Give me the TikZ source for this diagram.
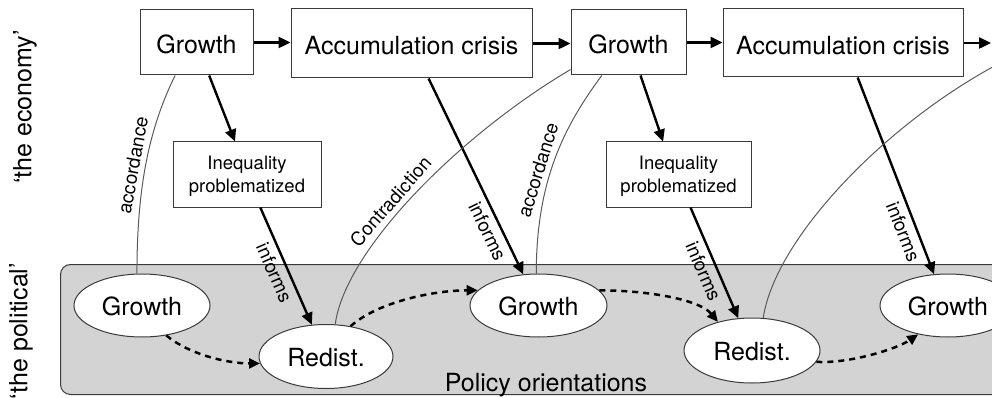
\documentclass[tikz,border=0pt]{standalone}
\usepackage{fontspec}
\setmainfont{TeX Gyre Heros}
\usetikzlibrary{arrows.meta,shapes.geometric}

\definecolor{framegray}{HTML}{3A3A3A}
\definecolor{linkgray}{HTML}{5A5A5A}
\definecolor{policyfill}{HTML}{D3D3D3}

\begin{document}
\begin{tikzpicture}[x=1pt,y=-1pt,
  big/.style={font=\fontsize{25}{30}\selectfont},
  phasebox/.style={draw=framegray, line width=1pt, fill=white, big, inner sep=0pt,
    text height=22.5pt, text depth=0pt},
  ineqbox/.style={draw=framegray, line width=1pt, fill=white, align=center, inner sep=0pt,
    minimum width=148pt, minimum height=65pt, font=\fontsize{18.5}{23.3}\selectfont,
    text depth=0pt},
  orientell/.style={ellipse, draw=framegray, line width=1pt, fill=white, big, inner sep=0pt,
    minimum width=136pt, minimum height=63pt, text height=20pt, text depth=0pt},
  flowarrow/.style={line width=2.4pt, -{Triangle[length=12pt,width=11pt]}},
  dashshift/.style={line width=2.5pt, dash pattern=on 6pt off 5pt,
    -{Triangle[length=11pt,width=10pt]}},
  thinlink/.style={draw=linkgray, line width=1pt},
  edgelbl/.style={font=\fontsize{19}{22}\selectfont, sloped, inner sep=5pt},
]
\useasboundingbox (0,0) rectangle (992,398);
\clip (0,0) rectangle (992,398);

% band of policy orientations
\node[draw=framegray, fill=policyfill, rounded corners=10pt, line width=1pt,
  minimum width=960pt, minimum height=130pt, anchor=north west, inner sep=0pt] (band) at (60,264) {};
\node[big, anchor=base] (bandlbl) at (546,391) {Policy orientations};

% side captions
\node[big, rotate=90] (econ) at (25,107) {‘the economy’};
\node[big, rotate=90] (polit) at (21,331) {‘the political’};

% economic phases
\node[phasebox, minimum width=113pt, minimum height=65pt] (g1) at (196.5,42.5) {Growth};
\node[phasebox, minimum width=241pt, minimum height=69pt] (ac1) at (411.5,43.5) {Accumulation crisis};
\node[phasebox, minimum width=115pt, minimum height=65pt] (g2) at (628.5,42.5) {Growth};
\node[phasebox, minimum width=240pt, minimum height=68pt] (ac2) at (843,43) {Accumulation crisis};
\coordinate (next) at (991,43);
\coordinate (g3) at (1002,62);

\node[ineqbox] (iq1) at (247,174.5) {Inequality\\problematized};
\node[ineqbox, minimum width=145pt] (iq2) at (678.5,174.5) {Inequality\\problematized};

% policy orientations
\node[orientell] (pg1) at (142,305.5) {Growth};
\node[orientell, minimum width=134pt, minimum height=64pt] (pr1) at (326,356.5) {Redist.};
\node[orientell, minimum width=137pt] (pg2) at (538.5,305.5) {Growth};
\node[orientell, minimum height=65pt] (pr2) at (752,350.5) {Redist.};
\node[orientell] (pg3) at (948,305.5) {Growth};

% sequence of phases
\draw[flowarrow] (g1.east) -- (g1.east -| ac1.west);
\draw[flowarrow] (ac1.east) -- (ac1.east -| g2.west);
\draw[flowarrow] (g2.east) -- (g2.east -| ac2.west);
\draw[flowarrow] (ac2.east) -- (next);

\draw[flowarrow] (g1.-69) -- (iq1.110);
\draw[flowarrow] (g2.-70.5) -- (iq2.115.5);

% informs arrows
\draw[flowarrow] (iq1.-68) -- node[edgelbl, below, pos=0.51] {informs} (pr1.114);
\draw[flowarrow] (ac1.-64.4) -- node[edgelbl, below, pos=0.75] {informs} (pg2.116);
\draw[flowarrow] (iq2.-70.5) -- node[edgelbl, below, pos=0.53] {informs} (pr2.113);
\draw[flowarrow] (ac2.-67.6) -- node[edgelbl, below, pos=0.76] {informs} (pg3.114);

% accordance / contradiction links
\draw[thinlink] (pg1.99) .. controls +(0,-84) and +(-27,55) ..
  node[edgelbl, above, pos=0.48] {accordance} (g1.-123.5);
\draw[thinlink] (pr1.74) .. controls +(10,-75) and +(-110,65) ..
  node[edgelbl, above, pos=0.44] {Contradiction} (g2.205);
\draw[thinlink] (pg2.94) .. controls +(0,-94) and +(-37,50) ..
  node[edgelbl, above, pos=0.42] {accordance} (g2.-129);
\draw[thinlink] (pr2.71) .. controls +(12,-80) and +(-115,60) .. (g3);

% shifts between orientations
\draw[dashshift] (pg1.-51) .. controls +(23,19) and +(-33,0) .. (pr1.186);
\draw[dashshift] (pr1.51.5) .. controls +(27,-24) and +(-45,0) .. (pg2.166);
\draw[dashshift] (pg2.14.7) .. controls +(50,0) and +(-18,-22) .. (pr2.140);
\draw[dashshift] (pr2.-10.7) .. controls +(32,2) and +(-22,15) .. (pg3.224);
\end{tikzpicture}
\end{document}
